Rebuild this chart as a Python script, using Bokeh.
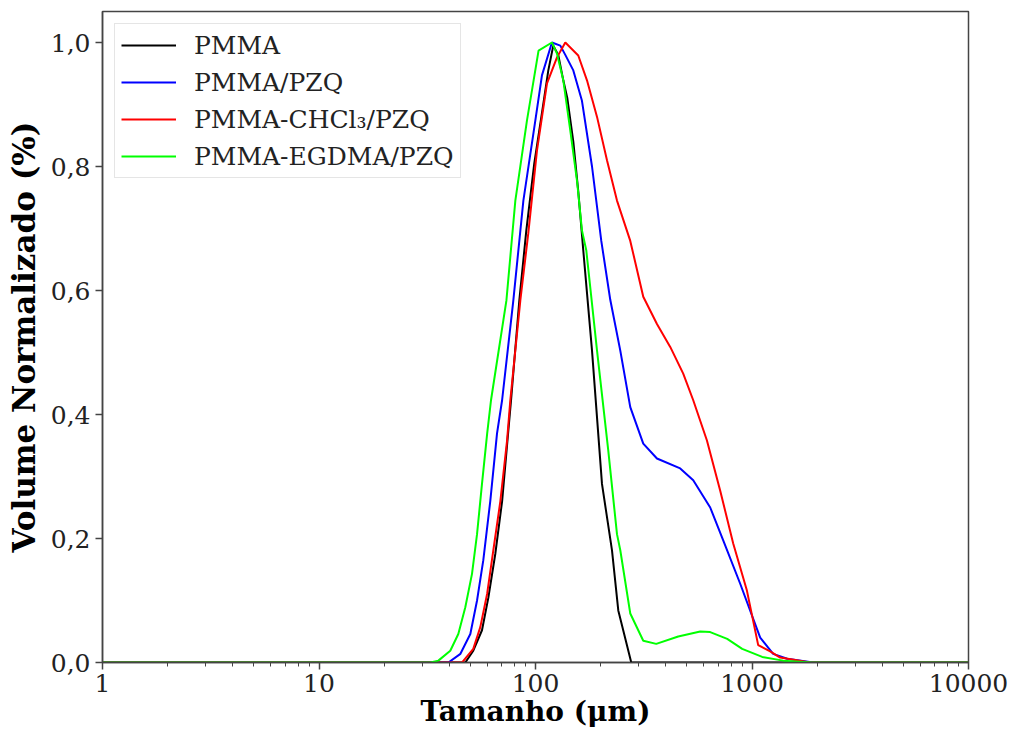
from bokeh.plotting import figure
from bokeh.models import Range1d, FixedTicker, Legend, LegendItem
from bokeh.embed import file_html
from bokeh.resources import INLINE

# ---- data ----
pmma_x = [1, 47.4, 51.6, 56.6, 60.6, 65.2, 70.1, 74.2, 77.1, 84.2, 90.7, 98.7, 107.5, 114.6,
          120.8, 127.4, 134.4, 140.3, 149.5, 157.6, 166.2, 182.4, 202.8, 225.6, 241.2, 276.9, 10000]
pmma_y = [0, 0, 0.019, 0.052, 0.105, 0.175, 0.26, 0.358, 0.423, 0.584, 0.697, 0.805, 0.89, 0.955,
          0.995, 0.98, 0.939, 0.91, 0.84, 0.76, 0.665, 0.503, 0.288, 0.181, 0.084, 0, 0]

pzq_x = [1, 39.6, 45.0, 50.0, 53.7, 57.4, 61.8, 66.4, 70.1, 79.0, 87.9, 99.8, 107.1, 119.1, 130.2,
         137.3, 149.5, 163.9, 182.4, 201.3, 221.5, 246.4, 274.0, 314.6, 363.9, 466.1, 535.3, 641.2,
         736.3, 882.1, 1091.1, 1252.7, 1453.8, 1916, 10000]
pzq_y = [0, 0, 0.014, 0.046, 0.1, 0.165, 0.26, 0.369, 0.423, 0.584, 0.745, 0.874, 0.947, 1.0, 0.995,
         0.98, 0.955, 0.906, 0.80, 0.68, 0.585, 0.503, 0.412, 0.353, 0.329, 0.313, 0.294, 0.25,
         0.197, 0.127, 0.04, 0.014, 0.006, 0, 0]

chcl3_x = [1, 45.8, 51.6, 55.6, 59.8, 63.8, 68.8, 73.9, 76.5, 85.1, 92.6, 101.6, 113.0, 125.7, 137.3,
           157.6, 172.9, 192.4, 213.9, 237.9, 274.0, 314.6, 363.9, 419.1, 481.2, 535.3, 619.2, 713.2,
           818.9, 947.3, 1068.1, 1213.4, 1349.4, 1856, 10000]
chcl3_y = [0, 0, 0.022, 0.057, 0.111, 0.18, 0.26, 0.358, 0.423, 0.584, 0.692, 0.826, 0.934, 0.976, 1.0,
           0.979, 0.939, 0.88, 0.81, 0.745, 0.68, 0.59, 0.546, 0.509, 0.466, 0.423, 0.358, 0.277,
           0.192, 0.116, 0.028, 0.018, 0.008, 0, 0]

egdma_x = [1, 32.7, 35.6, 40.4, 44.0, 47.4, 50.9, 53.7, 56.6, 59.8, 62.3, 73.4, 80.7, 91.3, 103.3,
           119.1, 125.7, 134.4, 144.8, 155.5, 163.9, 171.6, 192.4, 216.8, 237.9, 246.4, 274.0, 314.6,
           361.2, 456.3, 576.6, 641.2, 768.3, 901.1, 1114.6, 1393.1, 1896, 10000]
egdma_y = [0, 0, 0.003, 0.019, 0.046, 0.089, 0.143, 0.207, 0.288, 0.369, 0.423, 0.584, 0.745, 0.874,
           0.987, 1.0, 0.982, 0.939, 0.858, 0.777, 0.697, 0.665, 0.503, 0.342, 0.207, 0.181, 0.079,
           0.035, 0.03, 0.042, 0.05, 0.049, 0.038, 0.022, 0.009, 0.003, 0, 0]

series_labels = ["PMMA", "PMMA/PZQ", "PMMA-CHCl\u2083/PZQ", "PMMA-EGDMA/PZQ"]
series_colors = ["#000000", "#0000ff", "#ff0000", "#00ff00"]

y_ticks = [0.0, 0.2, 0.4, 0.6, 0.8, 1.0]
y_tick_labels = ["0,0", "0,2", "0,4", "0,6", "0,8", "1,0"]
x_ticks = [1, 10, 100, 1000, 10000]
x_tick_labels = ["1", "10", "100", "1000", "10000"]

FONT = "DejaVu Serif"

p = figure(frame_width=866, frame_height=651, x_axis_type="log",
           x_range=Range1d(1, 10000), y_range=Range1d(0, 1.05),
           output_backend="svg", toolbar_location=None,
           min_border_left=102, min_border_right=42, min_border_top=11, min_border_bottom=73)

p.xgrid.visible = False
p.ygrid.visible = False
p.outline_line_color = "#444444"
p.outline_line_width = 1.5
p.background_fill_color = "white"
p.border_fill_color = "white"

minor = []
for d in [1, 10, 100, 1000]:
    for m in range(2, 10):
        minor.append(d * m)

p.xaxis.ticker = FixedTicker(ticks=x_ticks, minor_ticks=minor)
p.xaxis.major_label_overrides = {t: l for t, l in zip(x_ticks, x_tick_labels)}
p.yaxis.ticker = FixedTicker(ticks=y_ticks)
p.yaxis.major_label_overrides = {t: l for t, l in zip(y_ticks, y_tick_labels)}

for ax in (p.xaxis[0], p.yaxis[0]):
    ax.axis_line_color = "#444444"
    ax.axis_line_width = 1.5
    ax.major_tick_line_color = "#444444"
    ax.minor_tick_line_color = "#444444"
    ax.major_tick_line_width = 1.5
    ax.minor_tick_line_width = 1
    ax.major_tick_in = 0
    ax.major_tick_out = 7
    ax.minor_tick_in = 0
    ax.minor_tick_out = 4
    ax.major_label_text_font = FONT
    ax.major_label_text_font_size = "25px"
    ax.major_label_text_color = "#222222"
    ax.axis_label_text_font = FONT
    ax.axis_label_text_font_style = "bold"
    ax.axis_label_text_color = "#000000"

p.xaxis.axis_label_text_font_size = "28px"
p.yaxis.axis_label_text_font_size = "31px"
p.yaxis.minor_tick_line_color = None
p.xaxis.axis_label = "Tamanho (\u03bcm)"
p.yaxis.axis_label = "Volume Normalizado (%)"
p.xaxis.major_label_standoff = 4
p.xaxis.axis_label_standoff = 0
p.yaxis.major_label_standoff = 5
p.yaxis.axis_label_standoff = 6

items = []
for xs, ys, lab, col in zip([pmma_x, pzq_x, chcl3_x, egdma_x],
                            [pmma_y, pzq_y, chcl3_y, egdma_y],
                            series_labels, series_colors):
    r = p.line(xs, ys, line_color=col, line_width=2)
    items.append(LegendItem(label=lab, renderers=[r]))

legend = Legend(items=items, location="top_left")
legend.margin = 12
legend.padding = 6
legend.spacing = 7
legend.glyph_width = 55
legend.glyph_height = 30
legend.label_height = 30
legend.label_standoff = 18
legend.label_text_font = FONT
legend.label_text_font_size = "25px"
legend.label_text_color = "#222222"
legend.border_line_color = "#cccccc"
legend.border_line_width = 1
legend.background_fill_color = "white"
legend.background_fill_alpha = 0.8
p.add_layout(legend)

open("out.html", "w").write(file_html(p, INLINE))
